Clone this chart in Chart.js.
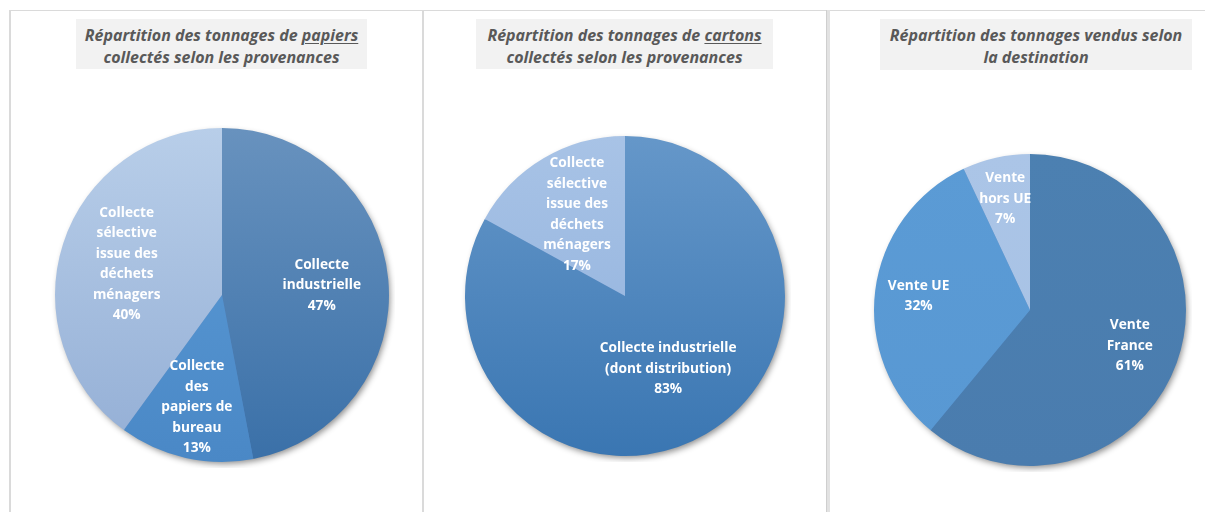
<!DOCTYPE html>
<html lang="fr">
<head>
<meta charset="utf-8">
<title>Répartition des tonnages</title>
<script src="https://cdn.jsdelivr.net/npm/chart.js@4"></script>
<style>
  body { margin: 0; background: #fff; width: 1205px; height: 512px; position: relative; overflow: hidden; }
  .line { position: absolute; background: #dadada; }
  .title {
    position: absolute; background: #f2f2f2; color: #595959;
    font-family: "Open Sans", Lato, sans-serif; font-weight: bold; font-style: italic;
    font-size: 16px; line-height: 22px; text-align: center; padding-top: 5px; box-sizing: border-box;
    white-space: nowrap;
  }
  .title u { text-underline-offset: 2px; }
  canvas { position: absolute; }
</style>
</head>
<body>
<div class="line" style="left:9px;top:10px;width:1196px;height:1px;"></div>
<div class="line" style="left:9px;top:10px;width:2px;height:502px;"></div>
<div class="line" style="left:422px;top:10px;width:2px;height:502px;"></div>
<div class="line" style="left:826px;top:10px;width:3px;height:502px;background:#e2e2e2;border-left:1px solid #cfcfcf;"></div>

<div class="title" style="left:76px;top:19px;width:291px;height:50px;">Répartition des tonnages de <u>papiers</u><br>collectés selon les provenances</div>
<div class="title" style="left:476px;top:19px;width:297px;height:50px;">Répartition des tonnages de <u>cartons</u><br>collectés selon les provenances</div>
<div class="title" style="left:880px;top:19px;width:312px;height:51px;">Répartition des tonnages vendus selon<br>la destination</div>

<canvas id="pie1" width="346" height="346" style="left:49px;top:122px;"></canvas>
<canvas id="pie2" width="332" height="332" style="left:459px;top:130px;"></canvas>
<canvas id="pie3" width="324" height="324" style="left:868px;top:148px;"></canvas>

<script>
// Papiers collectés
const papierLabels = [['Collecte', 'industrielle'], ['Collecte', 'des', 'papiers de', 'bureau'], ['Collecte', 'sélective', 'issue des', 'déchets', 'ménagers']];
const papierValues = [47, 13, 40];

// Cartons collectés
const cartonLabels = [['Collecte industrielle', '(dont distribution)'], ['Collecte', 'sélective', 'issue des', 'déchets', 'ménagers']];
const cartonValues = [83, 17];

// Tonnages vendus
const venteLabels = [['Vente', 'France'], ['Vente UE'], ['Vente', 'hors UE']];
const venteValues = [61, 32, 7];

// shadow disc under the pie
const shadowPlugin = {
  id: 'pieShadow',
  beforeDatasetsDraw(chart) {
    const arc = chart.getDatasetMeta(0).data[0];
    if (!arc) return;
    const { x, y, outerRadius } = arc.getProps(['x', 'y', 'outerRadius'], true);
    const ctx = chart.ctx;
    ctx.save();
    ctx.shadowColor = 'rgba(0,0,0,0.45)';
    ctx.shadowBlur = 6;
    ctx.shadowOffsetX = 2;
    ctx.shadowOffsetY = 3;
    ctx.beginPath();
    ctx.arc(x, y, outerRadius - 1, 0, Math.PI * 2);
    ctx.fillStyle = '#4f81bd';
    ctx.fill();
    ctx.restore();
  }
};

// white labels inside the slices
const sliceLabelPlugin = {
  id: 'sliceLabels',
  afterDatasetsDraw(chart, args, opts) {
    const ctx = chart.ctx;
    const data = chart.data.datasets[0].data;
    const total = data.reduce((a, b) => a + b, 0);
    ctx.save();
    ctx.fillStyle = '#ffffff';
    ctx.font = 'bold 13.7px "Open Sans", Lato, sans-serif';
    ctx.textAlign = 'center';
    ctx.textBaseline = 'middle';
    chart.getDatasetMeta(0).data.forEach((arc, i) => {
      const p = arc.getProps(['x', 'y', 'startAngle', 'endAngle', 'outerRadius'], true);
      const mid = (p.startAngle + p.endAngle) / 2;
      const d = p.outerRadius * opts.frac[i];
      const cx = p.x + Math.cos(mid) * d;
      const cy = p.y + Math.sin(mid) * d;
      const lines = [].concat(chart.data.labels[i], Math.round(data[i] / total * 100) + '%');
      const lh = 20.5;
      lines.forEach((t, k) => {
        ctx.fillText(t, cx, cy + (k - (lines.length - 1) / 2) * lh);
      });
    });
    ctx.restore();
  }
};

function gradientFill(tops, bottoms) {
  return (context) => {
    const chart = context.chart;
    const area = chart.chartArea;
    const i = context.dataIndex;
    if (!area) return tops[i];
    const g = chart.ctx.createLinearGradient(0, area.top, 0, area.bottom);
    g.addColorStop(0, tops[i]);
    g.addColorStop(1, bottoms[i]);
    return g;
  };
}

function makePie(canvasId, labels, values, tops, bottoms, frac) {
  return new Chart(document.getElementById(canvasId), {
    type: 'pie',
    data: {
      labels: labels,
      datasets: [{
        data: values,
        backgroundColor: gradientFill(tops, bottoms),
        borderWidth: 0,
      }]
    },
    options: {
      responsive: false,
      animation: false,
      layout: { padding: 6 },
      plugins: {
        legend: { display: false },
        tooltip: { enabled: false },
        sliceLabels: { frac: frac },
      }
    },
    plugins: [shadowPlugin, sliceLabelPlugin]
  });
}

makePie('pie1', papierLabels, papierValues,
  ['#6892be', '#5d9dd8', '#b8cee9'],
  ['#3a70a8', '#4a88c6', '#93aed5'],
  [0.6, 0.69, 0.6]);

makePie('pie2', cartonLabels, cartonValues,
  ['#6597c9', '#a8c3e6'],
  ['#3a76b2', '#8eafdc'],
  [0.53, 0.59]);

makePie('pie3', venteLabels, venteValues,
  ['#4c80b1', '#5b9bd5', '#abc5e7'],
  ['#4a7cae', '#5898d3', '#a6c1e4'],
  [0.68, 0.72, 0.73]);
</script>
</body>
</html>
